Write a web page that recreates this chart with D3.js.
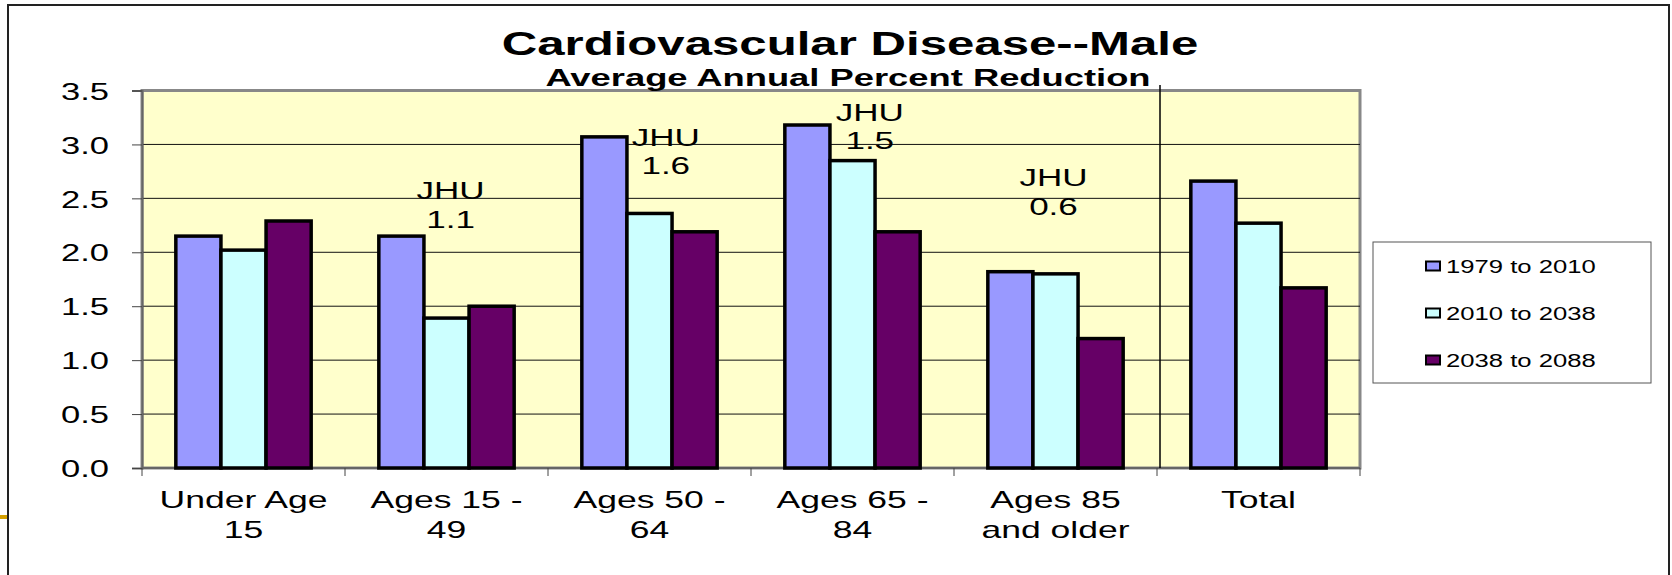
<!DOCTYPE html>
<html>
<head>
<meta charset="utf-8">
<script src="https://cdn.jsdelivr.net/npm/d3@7"></script>
<style>
  body { margin: 0; background: #fff; }
  svg { display: block; }
  text { font-family: "Liberation Sans", Arial, sans-serif; fill: #000; }
</style>
</head>
<body>
<script>
// chart values
var categories = [["Under Age", "15"], ["Ages 15 -", "49"], ["Ages 50 -", "64"],
                  ["Ages 65 -", "84"], ["Ages 85", "and older"], ["Total"]];
var seriesNames = ["1979 to 2010", "2010 to 2038", "2038 to 2088"];
var s1979 = [2.15, 2.15, 3.07, 3.18, 1.82, 2.66];
var s2010 = [2.02, 1.39, 2.36, 2.85, 1.80, 2.27];
var s2038 = [2.29, 1.50, 2.19, 2.19, 1.20, 1.67];
var yTicks = [0, 0.5, 1, 1.5, 2, 2.5, 3, 3.5];
// JHU notes: category index, label, value where the first line sits, x shift (fraction of band)
var jhuCat = [1, 2, 3, 4];
var jhuText = ["1.1", "1.6", "1.5", "0.6"];
var jhuAt = [2.49, 2.99, 3.22, 2.61];
var jhuShift = [0.02, 0.08, 0.085, -0.01];

var colors = ["#9999FF", "#CCFFFF", "#660066"];

function main() {
    var W = 1672, H = 575;
    var left = 142, right = 1360, top = 90.5, bottom = 468;

    var svg = d3.select("body").append("svg")
        .attr("width", W)
        .attr("height", H);

    // text in the picture is stretched sideways, keep that look
    function label(g, str, x, y, size, sx, anchor, weight) {
        return g.append("text")
            .attr("transform", "translate(" + x + "," + y + ") scale(" + sx + ",1)")
            .attr("font-size", size + "px")
            .attr("font-weight", weight || "normal")
            .attr("text-anchor", anchor || "middle")
            .text(str);
    }

    // outer slide frame
    svg.append("path")
        .attr("d", "M8," + H + "V5H1669V" + H)
        .attr("fill", "none")
        .attr("stroke", "#222")
        .attr("stroke-width", 2);
    svg.append("rect")
        .attr("x", 0).attr("y", 515).attr("width", 7).attr("height", 4)
        .attr("fill", "#D4A000");

    var x = d3.scaleBand()
        .domain(d3.range(categories.length))
        .range([left, right]);
    var xs = d3.scaleBand()
        .domain(d3.range(seriesNames.length))
        .range([0, x.bandwidth()])
        .paddingOuter(0.75);
    var y = d3.scaleLinear()
        .domain([0, 3.5])
        .range([bottom, top]);

    // plot area
    svg.append("rect")
        .attr("x", left).attr("y", top)
        .attr("width", right - left).attr("height", bottom - top)
        .attr("fill", "#FFFFCC")
        .attr("stroke", "#888")
        .attr("stroke-width", 3);

    // gridlines
    svg.append("g")
        .selectAll("line")
        .data(yTicks.filter(function(d) { return d > 0 && d < 3.5; }))
        .enter()
        .append("line")
        .attr("x1", left).attr("x2", right)
        .attr("y1", function(d) { return y(d); })
        .attr("y2", function(d) { return y(d); })
        .attr("stroke", "#111")
        .attr("stroke-width", 1);

    // y axis
    var yAxis = svg.append("g")
        .attr("transform", "translate(" + left + ",0)")
        .call(d3.axisLeft(y).tickValues(yTicks).tickSize(10).tickFormat(d3.format(".1f")));
    yAxis.select(".domain").attr("stroke", "#666").attr("stroke-width", 2);
    yAxis.selectAll(".tick line").attr("stroke", "#444");
    yAxis.selectAll(".tick text")
        .attr("x", null)
        .attr("dy", "0.36em")
        .attr("transform", "translate(-33,0) scale(1.44,1)")
        .attr("font-size", "24px")
        .attr("font-family", "Liberation Sans, Arial, sans-serif")
        .attr("fill", "#000");

    // x axis line and ticks at band edges
    svg.append("line")
        .attr("x1", left).attr("x2", right)
        .attr("y1", bottom).attr("y2", bottom)
        .attr("stroke", "#666").attr("stroke-width", 2);
    svg.append("g")
        .selectAll("line")
        .data(d3.range(categories.length + 1))
        .enter()
        .append("line")
        .attr("x1", function(i) { return i < categories.length ? x(i) : right; })
        .attr("x2", function(i) { return i < categories.length ? x(i) : right; })
        .attr("y1", bottom).attr("y2", bottom + 8)
        .attr("stroke", "#444");

    // divider before Total
    svg.append("line")
        .attr("x1", x(5) + 3).attr("x2", x(5) + 3)
        .attr("y1", 85).attr("y2", bottom)
        .attr("stroke", "#000").attr("stroke-width", 1.5);

    // bars
    var series = [s1979, s2010, s2038];
    var bars = [];
    series.forEach(function(vals, si) {
        vals.forEach(function(v, ci) {
            bars.push({ s: si, c: ci, v: v });
        });
    });
    svg.append("g")
        .selectAll("rect")
        .data(bars)
        .enter()
        .append("rect")
        .attr("x", function(d) { return x(d.c) + xs(d.s); })
        .attr("y", function(d) { return y(d.v); })
        .attr("width", xs.bandwidth())
        .attr("height", function(d) { return y(0) - y(d.v); })
        .attr("fill", function(d) { return colors[d.s]; })
        .attr("stroke", "#000")
        .attr("stroke-width", 3.5);

    // category labels
    var xl = svg.append("g");
    categories.forEach(function(lines, i) {
        var cx = x(i) + x.bandwidth() / 2;
        lines.forEach(function(t, k) {
            label(xl, t, cx, 508 + k * 30, 24, 1.48);
        });
    });

    // JHU notes
    var notes = svg.append("g");
    jhuCat.forEach(function(c, i) {
        var cx = x(c) + x.bandwidth() * (0.5 + jhuShift[i]);
        label(notes, "JHU", cx, y(jhuAt[i]), 24, 1.46);
        label(notes, jhuText[i], cx, y(jhuAt[i]) + 28.5, 24, 1.46);
    });

    // titles
    label(svg, "Cardiovascular Disease--Male", 850, 55, 33, 1.49, "middle", "bold");
    label(svg, "Average Annual Percent Reduction", 848, 86, 23, 1.58, "middle", "bold");

    // legend
    var lg = svg.append("g");
    lg.append("rect")
        .attr("x", 1373).attr("y", 242)
        .attr("width", 278).attr("height", 141)
        .attr("fill", "#fff")
        .attr("stroke", "#555").attr("stroke-width", 1);
    seriesNames.forEach(function(n, i) {
        var cy = 266 + i * 47;
        lg.append("rect")
            .attr("x", 1426).attr("y", cy - 4.5)
            .attr("width", 14).attr("height", 9)
            .attr("fill", colors[i])
            .attr("stroke", "#000").attr("stroke-width", 2);
        label(lg, n, 1446, cy + 7, 19, 1.35, "start");
    });
}

main();
</script>
</body>
</html>
